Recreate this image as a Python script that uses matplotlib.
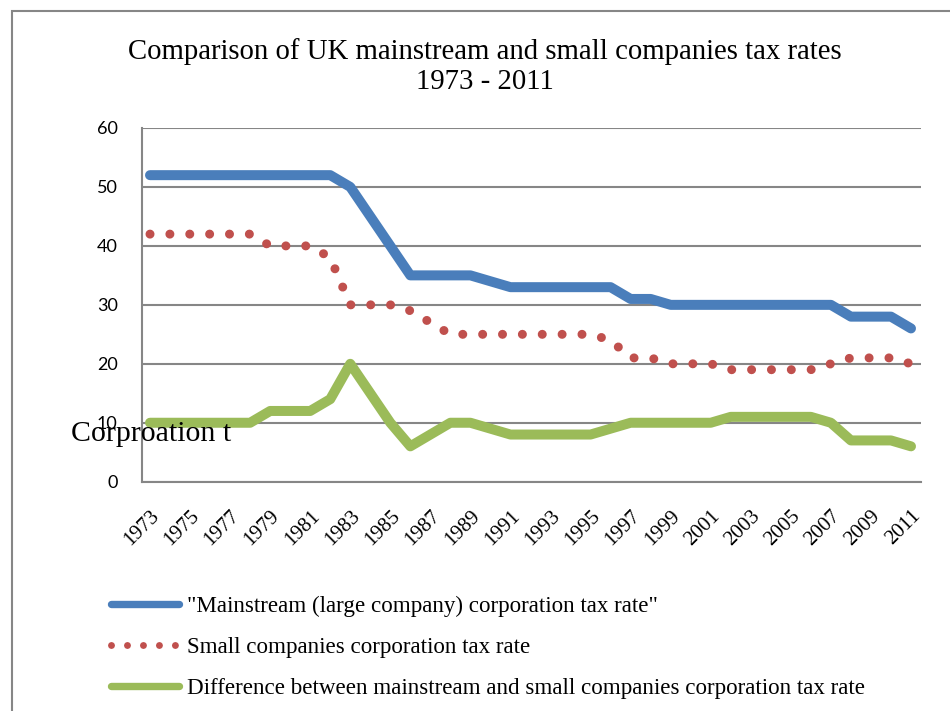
import matplotlib
matplotlib.use("Agg")
import matplotlib.pyplot as plt
import matplotlib.transforms as mtransforms
from matplotlib.lines import Line2D
from matplotlib.patches import Rectangle

# === Data ===
years = list(range(1973, 2012))
mainstream = [52, 52, 52, 52, 52, 52, 52, 52, 52, 52, 50, 45, 40, 35, 35, 35, 35, 34, 33, 33,
              33, 33, 33, 33, 31, 31, 30, 30, 30, 30, 30, 30, 30, 30, 30, 28, 28, 28, 26]
small = [42, 42, 42, 42, 42, 42, 40, 40, 40, 38, 30, 30, 30, 29, 27, 25, 25, 25, 25, 25,
         25, 25, 25, 24, 21, 21, 20, 20, 20, 19, 19, 19, 19, 19, 20, 21, 21, 21, 20]
difference = [10, 10, 10, 10, 10, 10, 12, 12, 12, 14, 20, 15, 10, 6, 8, 10, 10, 9, 8, 8,
              8, 8, 8, 9, 10, 10, 10, 10, 10, 11, 11, 11, 11, 11, 10, 7, 7, 7, 6]
series_labels = ['"Mainstream (large company) corporation tax rate"',
                 "Small companies corporation tax rate",
                 "Difference between mainstream and small companies corporation tax rate"]
y_ticks = [0, 10, 20, 30, 40, 50, 60]

serif = "Liberation Serif"
grey = "#868686"
blue, red, green = "#4A7EBB", "#C0504D", "#9BBB59"

fig = plt.figure(figsize=(9.5, 7.11), dpi=100)
ax = fig.add_axes([142 / 950, 1 - 481.7 / 711, (921 - 142) / 950, (481.7 - 128) / 711])

x = list(range(len(years)))
ax.plot(x, mainstream, color=blue, lw=7.2, solid_capstyle="round",
        solid_joinstyle="round", zorder=3)
ax.plot(x, small, color=red, lw=6.5, linestyle=(0, (0.001, 2.2)),
        dash_capstyle="round", zorder=3)
ax.plot(x, difference, color=green, lw=7.2, solid_capstyle="round",
        solid_joinstyle="round", zorder=3)

ax.set_xlim(-0.4, 38.5)
ax.set_ylim(0, 60)
ax.set_yticks(y_ticks)
ax.set_yticklabels([str(v) for v in y_ticks], fontfamily="Lato", fontsize=13)
ax.set_xticks(x[::2])
ax.set_xticklabels([str(y) for y in years[::2]], rotation=45, ha="right", va="top",
                   rotation_mode="anchor", fontfamily=serif, fontsize=15)
shift = mtransforms.ScaledTranslation(3 / 100, 0, fig.dpi_scale_trans)
for lbl in ax.get_xticklabels():
    lbl.set_transform(lbl.get_transform() + shift)
ax.tick_params(axis="both", length=0)
ax.tick_params(axis="y", pad=17.5)
ax.tick_params(axis="x", pad=18)
ax.grid(axis="y", color=grey, lw=1.5)
ax.set_axisbelow(True)
for side in ["top", "right"]:
    ax.spines[side].set_visible(False)
for side in ["left", "bottom"]:
    ax.spines[side].set_color(grey)
    ax.spines[side].set_linewidth(1.5)

fig.text(485 / 950, 1 - 52 / 711, "Comparison of UK mainstream and small companies tax rates",
         ha="center", va="center", fontfamily=serif, fontsize=20.7)
fig.text(485 / 950, 1 - 82 / 711, "1973 - 2011", ha="center", va="center",
         fontfamily=serif, fontsize=20.7)

# leftover axis title fragment
fig.text(71 / 950, 1 - 434 / 711, "Corproation t", ha="left", va="center",
         fontfamily=serif, fontsize=21.5)

# legend keys are drawn a little thinner than the plotted lines
handles = [
    Line2D([], [], color=blue, lw=5.3, solid_capstyle="round"),
    Line2D([], [], color=red, lw=5.0, linestyle=(0, (0.001, 2.3)), dash_capstyle="round"),
    Line2D([], [], color=green, lw=5.3, solid_capstyle="round"),
]
fig.legend(handles, series_labels, loc="upper left", bbox_to_anchor=(111 / 950, 1 - 596 / 711),
           frameon=False, prop={"family": serif, "size": 16.6}, borderaxespad=0, borderpad=0,
           handlelength=2.95, handletextpad=0.35, labelspacing=0.86)

# chart area frame
fig.patches.append(Rectangle((12 / 950, -0.1), 1.2, 1.1 - 11 / 711,
                             transform=fig.transFigure, fill=False,
                             edgecolor=grey, lw=1.5))

fig.savefig("out.png", dpi=100)
